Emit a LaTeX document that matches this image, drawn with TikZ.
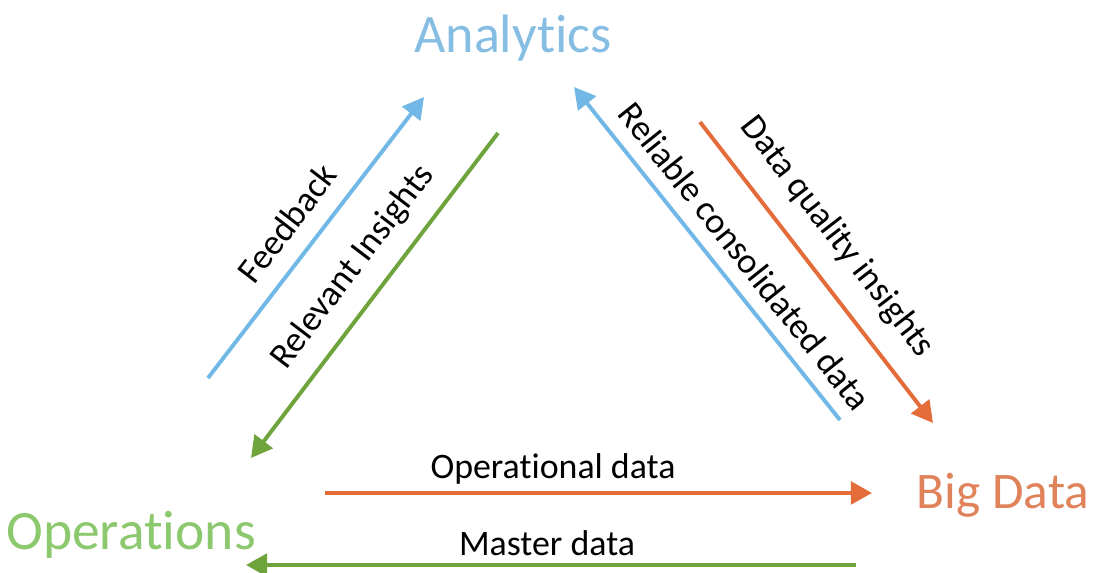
\documentclass[tikz,border=0pt]{standalone}
\usepackage{fontspec}
\setmainfont[Ligatures={NoCommon}]{Carlito}
\usetikzlibrary{arrows.meta}
\definecolor{cblue}{HTML}{72B8E6}
\definecolor{cgreen}{HTML}{6FA33C}
\definecolor{corange}{HTML}{E36C3A}
\definecolor{tblue}{HTML}{86BEE3}
\definecolor{tgreen}{HTML}{8CC86E}
\definecolor{torange}{HTML}{E0825A}
\tikzset{
  conn/.style={line width=2.8pt, -{Triangle[length=15pt,width=16pt]}},
  title/.style={inner sep=0pt, anchor=base},
  lbl/.style={inner sep=0pt, font=\fontsize{25.5pt}{28pt}\selectfont, text=black},
}
\begin{document}
\begin{tikzpicture}[x=0.025cm, y=-0.025cm]
\useasboundingbox (0,0) rectangle (1109,572);
% main nodes
\node[title, text=tblue, font=\fontsize{38.5pt}{40pt}\selectfont] (ana) at (513,52) {Analytics};
\node[title, text=tgreen, font=\fontsize{39.5pt}{42pt}\selectfont] (ops) at (131,549) {Operations};
\node[title, text=torange, font=\fontsize{36.5pt}{40pt}\selectfont] (big) at (1003,508) {Big Data};
% arrow end points
\coordinate (fbS) at (208,378);  \coordinate (fbE) at (424,97);
\coordinate (riS) at (498,133);  \coordinate (riE) at (251,458);
\coordinate (rcS) at (840,420);  \coordinate (rcE) at (574,87);
\coordinate (dqS) at (700,122);  \coordinate (dqE) at (933,423);
\coordinate (odS) at (325,493);  \coordinate (odE) at (872,493);
\coordinate (mdS) at (856,565);  \coordinate (mdE) at (246,565);
% connectors
\draw[conn, cblue]   (fbS) -- (fbE);
\draw[conn, cgreen]  (riS) -- (riE);
\draw[conn, cblue]   (rcS) -- (rcE);
\draw[conn, corange] (dqS) -- (dqE);
\draw[conn, corange] (odS) -- (odE);
\draw[conn, cgreen]  (mdS) -- (mdE);
% labels
\node[lbl, rotate=52.5] (lfb) at (287,223) {Feedback};
\node[lbl, rotate=52.7] (lri) at (353,267) {Relevant Insights};
\node[lbl, rotate=-51.4] (lrc) at (745,256) {Reliable consolidated data};
\node[lbl, rotate=-52.3] (ldq) at (837,237) {Data quality insights};
\node[lbl, anchor=base] (lod) at (553,478) {Operational data};
\node[lbl, anchor=base] (lmd) at (547,555) {Master data};
\end{tikzpicture}
\end{document}
